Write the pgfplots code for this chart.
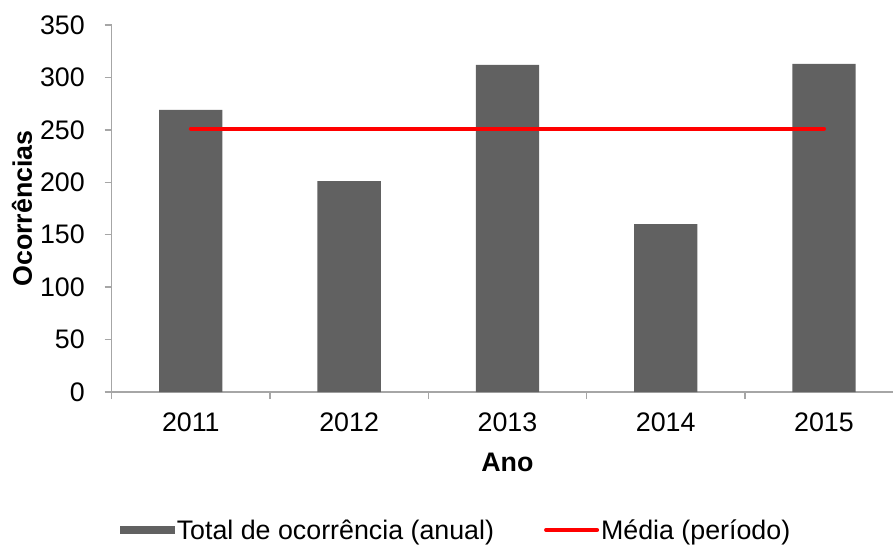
\documentclass[border=0pt]{standalone}
\usepackage{fontspec}
\setmainfont{Liberation Sans}
\usepackage{pgfplots}
\pgfplotsset{compat=1.18}
\definecolor{barc}{RGB}{97,97,97}
\definecolor{axc}{RGB}{166,166,166}
\begin{document}
\begin{tikzpicture}[font=\fontsize{26.8}{32}\selectfont]
\begin{axis}[
  name=ax,
  at={(0,0)}, anchor=south west,
  scale only axis, width=781.3pt, height=367pt,
  xmin=-0.5, xmax=4.436, ymin=0, ymax=350,
  axis lines*=left,
  axis line style={-, axc, line width=1.3pt},
  tick style={axc, line width=1.3pt},
  tick align=outside,
  major tick length=7pt, minor tick length=7pt,
  xtick={0,1,2,3,4},
  xticklabels={2011,2012,2013,2014,2015},
  major x tick style={draw=none},
  minor xtick={-0.5,0.5,1.5,2.5,3.5},
  ytick={0,50,...,350},
  /pgf/number format/assume math mode=true,
  xticklabel style={anchor=base, inner sep=0pt, yshift=-32pt},
  yticklabel style={anchor=east, inner sep=0pt, xshift=-19.7pt},
  xlabel={\bfseries Ano},
  xlabel style={at={(axis cs:2,0)}, anchor=base, inner sep=0pt, yshift=-79pt},
  ylabel={\bfseries Ocorrências},
  ylabel style={at={(axis description cs:-0.1148,0.5)}, anchor=center},
  legend columns=2,
  legend style={at={(axis description cs:0.4407,-0.376)}, anchor=center,
    draw=none, fill=none, inner sep=0pt,
    nodes={inner xsep=2pt, inner ysep=0pt},
    /tikz/every even column/.append style={column sep=48pt}},
  legend cell align=left,
]
\addplot[ybar, bar width=63.3pt, fill=barc, draw=none,
  legend image code/.code={\fill[barc] (0pt,-4pt) rectangle (55pt,4pt);}]
  coordinates {(0,269) (1,201) (2,312) (3,160) (4,313)};
\addlegendentry{Total de ocorrência (anual)}
\addplot[red, line width=4pt, line cap=round,
  legend image code/.code={\draw[red, line width=4pt, line cap=round] (2pt,0pt) -- (53pt,0pt);}]
  coordinates {(0,251) (4,251)};
\addlegendentry{Média (período)}
\end{axis}
\pgfresetboundingbox
\path[use as bounding box] ([shift={(-111.7pt,-152pt)}]ax.south west) rectangle ([shift={(781.3pt,392pt)}]ax.south west);
\end{tikzpicture}
\end{document}
